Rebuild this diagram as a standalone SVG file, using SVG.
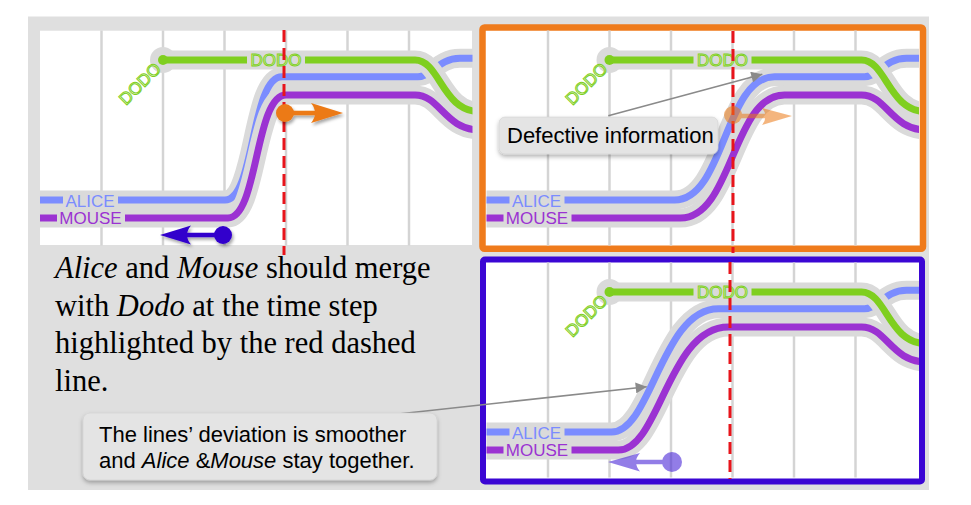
<svg xmlns="http://www.w3.org/2000/svg" width="971" height="505" viewBox="0 0 971 505">
<defs>
<style>
.grid{stroke:#d4d4d4;stroke-width:2.5}
.halo{fill:none;stroke:#dadada;stroke-width:19;stroke-linejoin:round}
.ln{fill:none;stroke-width:7}
.blue{stroke:#7b8cff}
.purple{stroke:#9b32d2}
.green{stroke:#7fcf1f}
.gap{fill:#dadada}
.lbl{font-family:"Liberation Sans",Arial,sans-serif;font-size:17px;text-anchor:middle}
.tA{fill:#7b8cff}
.tM{fill:#9b32d2}
.dodo{fill:#eef8d6;stroke:#7fcf1f;stroke-width:1}
.red{stroke:#e8141b;stroke-width:3;stroke-dasharray:12 6;fill:none}
.serif{font-family:"Liberation Serif","Times New Roman",serif;font-size:30.5px;fill:#000}
.call{font-family:"Liberation Sans",Arial,sans-serif;font-size:22px;fill:#000}
.box{fill:#e4e4e4;stroke:#d0d0d0;stroke-width:0.6}
.conn{stroke:#8a8a8a;stroke-width:1.6;fill:none}
</style>
<clipPath id="cP"><rect x="40" y="30.5" width="432.5" height="215"/></clipPath>
<filter id="sh" x="-20%" y="-40%" width="140%" height="200%"><feDropShadow dx="1.5" dy="2.5" stdDeviation="1.8" flood-color="#000" flood-opacity="0.35"/></filter>
<filter id="bsh" x="-10%" y="-20%" width="120%" height="160%"><feDropShadow dx="0" dy="2.5" stdDeviation="2" flood-color="#000" flood-opacity="0.3"/></filter>
<marker id="ah" viewBox="0 0 10 10" refX="10" refY="5" markerWidth="12" markerHeight="11" markerUnits="userSpaceOnUse" orient="auto"><path d="M0,0 L10,5 L0,10 Z" fill="#8a8a8a"/></marker>
<g id="grid">
<path class="grid" d="M101.5 30V246M163 30V246M224.5 30V246M286 30V246M347.5 30V246M409 30V246"/>
</g>
<g id="greenline">
<path class="halo" d="M163 60H415C440 60 442 111.7 480 111.7"/>
<circle cx="163" cy="60" r="13" fill="#dadada"/>
<path class="ln green" d="M163 60H415C440 60 442 111.7 480 111.7"/>
<circle cx="163" cy="60" r="5" fill="#7fcf1f"/>
</g>
<g id="labels">
<rect class="gap" x="63" y="194" width="55" height="13"/>
<rect class="gap" x="57" y="212" width="68" height="13"/>
<rect class="gap" x="247" y="54" width="58" height="13"/>
<text class="lbl tA" x="90" y="206.7">ALICE</text>
<text class="lbl tM" x="90.5" y="224.3">MOUSE</text>
<text class="lbl dodo" x="276" y="66">DODO</text>
<text class="lbl dodo" transform="translate(144 88) rotate(-45)">DODO</text>
</g>
</defs>
<rect x="28" y="16.5" width="901" height="473.5" fill="#dfdfdf"/>

<g id="panel-a">
<rect x="40" y="30.7" width="432" height="214.3" fill="#fff"/>
<g clip-path="url(#cP)">
<use href="#grid"/>
<path class="halo" d="M35 200H225C255 200 251 76.7 282 76.7H418C432 76.7 438 58.3 460 58.3H480"/>
<path class="ln blue" d="M35 200H225C255 200 251 76.7 282 76.7H418C432 76.7 438 58.3 460 58.3H480"/>
<path class="halo" d="M35 218H228C258 218 255 95 286 95H415C440 95 445 130 480 130"/>
<path class="ln purple" d="M35 218H228C258 218 255 95 286 95H415C440 95 445 130 480 130"/>
<use href="#greenline"/>
<use href="#labels"/>
</g>
<path class="red" d="M284 30V255"/>
<g filter="url(#sh)" fill="#ec7a16">
<path d="M285 113H322" stroke="#ec7a16" stroke-width="4.5"/>
<path d="M343 113L311 103Q319 113 311 123Z"/>
<circle cx="285" cy="113" r="9"/>
</g>
<g filter="url(#sh)" fill="#3300cc">
<path d="M223 235H182" stroke="#3300cc" stroke-width="4.5"/>
<path d="M160 235L191 225.5Q183 235 191 244.5Z"/>
<circle cx="223" cy="235" r="9"/>
</g>
</g>

<g id="panel-b">
<rect x="482.5" y="27.5" width="440.5" height="221.3" fill="#fff" stroke="#ef7b1c" stroke-width="6.5" rx="2"/>
<g transform="translate(446.5 0)">
<g clip-path="url(#cP)">
<use href="#grid"/>
<path class="halo" d="M35 200H228C278 200 278 76.7 328 76.7H418C432 76.7 438 58.3 460 58.3H480"/>
<path class="ln blue" d="M35 200H228C278 200 278 76.7 328 76.7H418C432 76.7 438 58.3 460 58.3H480"/>
<path class="halo" d="M35 218H234C286 218 286 95 338 95H415C440 95 445 130 480 130"/>
<path class="ln purple" d="M35 218H234C286 218 286 95 338 95H415C440 95 445 130 480 130"/>
<use href="#greenline"/>
<use href="#labels"/>
</g>
</g>
<path class="red" d="M733 31V253"/>
<g opacity="0.55" fill="#ec7a16">
<path d="M733 116H770" stroke="#ec7a16" stroke-width="4.5"/>
<path d="M792 116L762 108Q769 116 762 125Z"/>
<circle cx="733" cy="115" r="9"/>
</g>
</g>

<g id="panel-c">
<rect x="483" y="259.5" width="439" height="222" fill="#fff" stroke="#3b06d4" stroke-width="6" rx="2"/>
<g transform="translate(446.5 232)">
<g clip-path="url(#cP)">
<use href="#grid"/>
<path class="halo" d="M35 200H165C205 200 215 76.7 272 76.7H418C432 76.7 438 58.3 460 58.3H480"/>
<path class="ln blue" d="M35 200H165C205 200 215 76.7 272 76.7H418C432 76.7 438 58.3 460 58.3H480"/>
<path class="halo" d="M35 218H172C213 218 222 95 282 95H415C440 95 445 130 480 130"/>
<path class="ln purple" d="M35 218H172C213 218 222 95 282 95H415C440 95 445 130 480 130"/>
<use href="#greenline"/>
<use href="#labels"/>
</g>
</g>
<path class="red" d="M730 262V479"/>
<g opacity="0.6" fill="#4a28d8">
<path d="M672 462H630" stroke="#4a28d8" stroke-width="4.5"/>
<path d="M608 462L640 453Q632 462 640 471.5Z"/>
<circle cx="672" cy="462" r="10"/>
</g>
</g>

<g id="caption">
<text class="serif" x="55" y="278.3"><tspan font-style="italic">Alice</tspan> and <tspan font-style="italic">Mouse</tspan> should merge</text>
<text class="serif" x="55" y="315.7">with <tspan font-style="italic">Dodo</tspan> at the time step</text>
<text class="serif" x="55" y="353.2">highlighted by the red dashed</text>
<text class="serif" x="55" y="390.5">line.</text>
</g>

<g id="connectors">
<path class="conn" d="M608.3 115.7L762.3 74.3" marker-end="url(#ah)"/>
<path class="conn" d="M373 416.7L646.7 386.7" marker-end="url(#ah)"/>
</g>

<g id="callout-defective">
<rect class="box" x="499" y="117" width="219" height="37" rx="6" filter="url(#bsh)"/>
<text class="call" x="507" y="143.3">Defective information</text>
</g>

<g id="callout-smoother">
<rect class="box" x="83" y="413" width="354" height="67" rx="7" filter="url(#bsh)"/>
<text class="call" x="99" y="441.7">The lines’ deviation is smoother</text>
<text class="call" x="99" y="467.7">and <tspan font-style="italic">Alice</tspan> &amp;<tspan font-style="italic">Mouse</tspan> stay together.</text>
</g>
</svg>
